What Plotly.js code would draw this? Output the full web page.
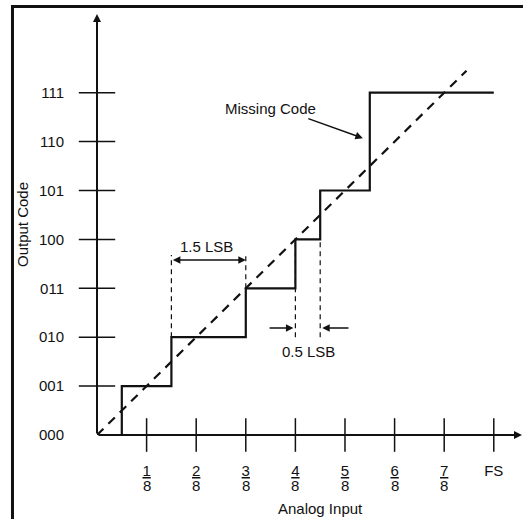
<!DOCTYPE html>
<html><head><meta charset="utf-8">
<script src="https://cdn.plot.ly/plotly-3.0.1.min.js"></script>
<style>html,body{margin:0;padding:0;background:#fff}</style>
</head><body><div id="chart" style="width:523px;height:519px"></div>
<script>
// Output codes (y axis)
const codeValues = [0, 1, 2, 3, 4, 5, 6, 7];
const codeLabels = ['000', '001', '010', '011', '100', '101', '110', '111'];
// Analog input ticks (x axis), in LSB units (1/8 FS each)
const inputTicks = [1, 2, 3, 4, 5, 6, 7, 8];
const inputNumerators = ['1', '2', '3', '4', '5', '6', '7', 'FS'];
const inputDenominators = ['8', '8', '8', '8', '8', '8', '8', ''];
// Actual transfer function (step transitions)
const stepInputs = [0, 0.5, 1.5, 3, 4, 4.5, 5.5, 8];
const stepCodes = [0, 1, 2, 3, 4, 5, 7, 7];
// Ideal transfer line
const idealInputs = [0, 7.45];
const idealCodes = [0, 7.45];
// Dashed guide lines
const guideX = [1.5, 3, 4, 4.5];
const guideLow = [2, 3, 2, 2];
const guideHigh = [3.68, 3.68, 4, 4];

const ink = '#111';
const font = 'Liberation Sans, Arial, Helvetica, sans-serif';

const guideXs = [], guideYs = [];
guideX.forEach((x, i) => { guideXs.push(x, x, null); guideYs.push(guideLow[i], guideHigh[i], null); });

const traces = [
  { x: idealInputs, y: idealCodes, mode: 'lines', line: { color: ink, width: 2.2, dash: '9px,7px' }, hoverinfo: 'skip' },
  { x: guideXs, y: guideYs, mode: 'lines', line: { color: ink, width: 1.2, dash: '5px,4px' }, hoverinfo: 'skip' },
  { x: stepInputs, y: stepCodes, mode: 'lines', line: { color: ink, width: 2.2, shape: 'hv' }, hoverinfo: 'skip' },
  { x: inputTicks, y: inputTicks.map(() => 0), mode: 'markers', cliponaxis: false,
    marker: { symbol: 'line-ns', size: 24, line: { color: ink, width: 1.5 } }, hoverinfo: 'skip' },
  { x: codeValues.slice(1).map(() => 0), y: codeValues.slice(1), mode: 'markers', cliponaxis: false,
    marker: { symbol: 'line-ew', size: 26, line: { color: ink, width: 1.5 } }, hoverinfo: 'skip' }
];

const xMax = 8.589, yMax = 8.609;

const arrow = (x, y, ax, ay, extra) => Object.assign({
  x: x, y: y, ax: ax, ay: ay, xref: 'x', yref: 'y', axref: 'x', ayref: 'y',
  text: '', showarrow: true, arrowhead: 2, arrowsize: 1, arrowwidth: 1.5, arrowcolor: ink
}, extra || {});

const label = (x, y, text, extra) => Object.assign({
  x: x, y: y, xref: 'x', yref: 'y', text: text, showarrow: false,
  xanchor: 'center', yanchor: 'middle',
  font: { family: font, size: 15, color: ink }
}, extra || {});

const annotations = [
  arrow(0, yMax, 0, 0, { arrowwidth: 2, arrowsize: 0.8 }),
  arrow(xMax - 0.02, 0, 0, 0, { arrowwidth: 2, arrowsize: 0.8 }),
  arrow(guideX[1], 3.58, guideX[0], 3.58, { arrowside: 'end+start', startarrowhead: 2 }),
  arrow(guideX[2] - 0.04, 2.19, 3.45, 2.19),
  arrow(guideX[3] + 0.04, 2.19, 5.10, 2.19),
  arrow(5.36, 6.07, 4.23, 6.48),
  label(2.21, 3.86, '1.5 LSB'),
  label(4.26, 1.70, '0.5 LSB'),
  label(3.49, 6.67, 'Missing Code'),
  label(4.5, -0.174, 'Analog Input', { yref: 'paper' })
];
inputTicks.forEach((t, i) => {
  if (inputDenominators[i]) annotations.push(label(t, 0, inputDenominators[i], { yshift: -50 }));
});

const layout = {
  width: 523, height: 519,
  margin: { l: 97, r: 0, t: 14, b: 84 },
  paper_bgcolor: '#fff', plot_bgcolor: '#fff',
  showlegend: false,
  font: { family: font, size: 15, color: ink },
  xaxis: {
    range: [0, xMax], tickvals: inputTicks,
    ticktext: inputNumerators.map((n, i) => inputDenominators[i] ? '<u>' + n + '</u>' : n),
    showgrid: false, zeroline: false, showline: false, ticks: '',
    tickfont: { family: font, size: 15, color: ink }, ticklabelstandoff: 25, automargin: false
  },
  yaxis: {
    range: [0, yMax], tickvals: codeValues, ticktext: codeLabels,
    showgrid: false, zeroline: false, showline: false, ticks: '',
    tickfont: { family: font, size: 15, color: ink }, ticklabelstandoff: 32, automargin: false,
    title: { text: 'Output Code', font: { family: font, size: 15, color: ink }, standoff: 6 }
  },
  shapes: [
    { type: 'rect', xref: 'paper', yref: 'paper', x0: -0.1984, x1: 1.05, y0: -0.26, y1: 1.0178,
      line: { color: ink, width: 3 } }
  ],
  annotations: annotations
};

Plotly.newPlot('chart', traces, layout, { displayModeBar: false, staticPlot: true });
</script>
</body></html>
